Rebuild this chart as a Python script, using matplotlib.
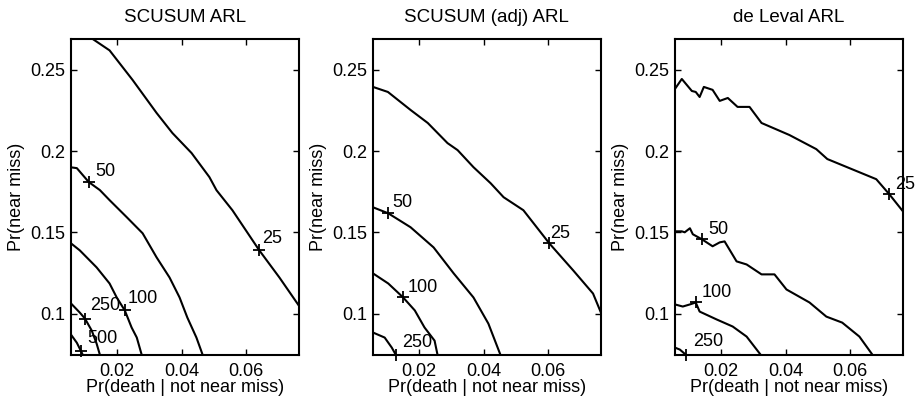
import matplotlib
matplotlib.use("Agg")
from matplotlib import pyplot as plt

plt.rcParams['font.family'] = ['Liberation Sans', 'DejaVu Sans']

titles = ["SCUSUM ARL", "SCUSUM (adj) ARL", "de Leval ARL"]
xlabel = "Pr(death | not near miss)"
ylabel = "Pr(near miss)"
xticks = [0.02, 0.04, 0.06]
xticklabels = ["0.02", "0.04", "0.06"]
yticks = [0.1, 0.15, 0.2, 0.25]
yticklabels = ["0.1", "0.15", "0.2", "0.25"]
xlim = (0.0059, 0.0761)
ylim = (0.0747, 0.269)

# SCUSUM ARL contours
scusum_levels = ["25", "50", "100", "250", "500"]
scusum_x = [
    [0.0126, 0.0178, 0.0249, 0.0323, 0.0372, 0.0431, 0.0486, 0.0508, 0.0557, 0.0640, 0.0702, 0.0762],
    [0.0059, 0.0077, 0.0114, 0.0148, 0.0178, 0.0231, 0.0280, 0.0323, 0.0363, 0.0394, 0.0418, 0.0446, 0.0465],
    [0.0059, 0.0086, 0.0138, 0.0178, 0.0200, 0.0225, 0.0246, 0.0262, 0.0277],
    [0.0059, 0.0086, 0.0102, 0.0123, 0.0138, 0.0148],
    [0.0059, 0.0077, 0.0089, 0.0095],
]
scusum_y = [
    [0.269, 0.262, 0.2438, 0.2235, 0.2111, 0.1988, 0.184, 0.1759, 0.1636, 0.1389, 0.1222, 0.1049],
    [0.190, 0.1895, 0.1809, 0.176, 0.1698, 0.1593, 0.1494, 0.1346, 0.1222, 0.1099, 0.0975, 0.0852, 0.0747],
    [0.1432, 0.1389, 0.1284, 0.1185, 0.1099, 0.1019, 0.0914, 0.0852, 0.0747],
    [0.1062, 0.1006, 0.0969, 0.0895, 0.0815, 0.0747],
    [0.087, 0.082, 0.0772, 0.0747],
]
scusum_mark_x = [0.0640, 0.0114, 0.0225, 0.0102, 0.0089]
scusum_mark_y = [0.1389, 0.1809, 0.1019, 0.0969, 0.0772]
scusum_text_x = [0.0680, 0.0166, 0.0280, 0.0163, 0.0157]
scusum_text_y = [0.1463, 0.1877, 0.1093, 0.1049, 0.0846]

# SCUSUM (adj) ARL contours
adj_levels = ["25", "50", "100", "250"]
adj_x = [
    [0.0059, 0.0105, 0.0175, 0.0228, 0.0289, 0.0320, 0.0369, 0.0422, 0.0462, 0.0523, 0.0603, 0.0677, 0.0738, 0.0766],
    [0.0059, 0.0106, 0.0175, 0.0246, 0.0308, 0.0369, 0.0415, 0.0452],
    [0.0059, 0.0106, 0.0152, 0.0188, 0.0218, 0.0249, 0.0258],
    [0.0059, 0.0095, 0.0117, 0.0129],
]
adj_y = [
    [0.2395, 0.2364, 0.2253, 0.2173, 0.2049, 0.2006, 0.1901, 0.1802, 0.1716, 0.1636, 0.1432, 0.1265, 0.1123, 0.0988],
    [0.1654, 0.1617, 0.1531, 0.1407, 0.1247, 0.1099, 0.0938, 0.0747],
    [0.1247, 0.1185, 0.1099, 0.1019, 0.0914, 0.0833, 0.0747],
    [0.0883, 0.0852, 0.079, 0.0747],
]
adj_mark_x = [0.0603, 0.0106, 0.0152, 0.0129]
adj_mark_y = [0.1432, 0.1617, 0.1099, 0.0747]
adj_text_x = [0.0636, 0.0149, 0.0213, 0.0195]
adj_text_y = [0.1494, 0.1685, 0.1160, 0.0821]

# de Leval ARL contours
dl_levels = ["25", "50", "100", "250"]
dl_x = [
    [0.0059, 0.0080, 0.0111, 0.0123, 0.0135, 0.0148, 0.0175, 0.0197, 0.0222, 0.0252, 0.0289, 0.0326, 0.0412,
     0.0495, 0.0529, 0.0680, 0.0720, 0.0762],
    [0.0059, 0.0080, 0.0089, 0.0105, 0.0114, 0.0142, 0.0175, 0.0197, 0.0212, 0.0249, 0.0280, 0.0326, 0.0366,
     0.0403, 0.0474, 0.0526, 0.0575, 0.0628, 0.0668],
    [0.0059, 0.0083, 0.0105, 0.0123, 0.0135, 0.0188, 0.0237, 0.0280, 0.0323],
    [0.0059, 0.0074, 0.0092],
]
dl_y = [
    [0.2383, 0.2444, 0.237, 0.2364, 0.2333, 0.2395, 0.2377, 0.2309, 0.2327, 0.2272, 0.2272, 0.2173, 0.2099,
     0.2012, 0.1951, 0.1827, 0.1735, 0.163],
    [0.1506, 0.1506, 0.150, 0.1525, 0.1488, 0.1457, 0.1414, 0.1438, 0.1444, 0.1321, 0.1302, 0.1241, 0.1241,
     0.1148, 0.1068, 0.0981, 0.0944, 0.0858, 0.0747],
    [0.1056, 0.1043, 0.1056, 0.1068, 0.1012, 0.0963, 0.092, 0.0858, 0.0747],
    [0.079, 0.0778, 0.0747],
]
dl_mark_x = [0.0720, 0.0142, 0.0123, 0.0092]
dl_mark_y = [0.1735, 0.1457, 0.1068, 0.0747]
dl_text_x = [0.0769, 0.0192, 0.0189, 0.0161]
dl_text_y = [0.1796, 0.1519, 0.1130, 0.0827]

panels = [
    (scusum_levels, scusum_x, scusum_y, scusum_mark_x, scusum_mark_y, scusum_text_x, scusum_text_y),
    (adj_levels, adj_x, adj_y, adj_mark_x, adj_mark_y, adj_text_x, adj_text_y),
    (dl_levels, dl_x, dl_y, dl_mark_x, dl_mark_y, dl_text_x, dl_text_y),
]

fig = plt.figure(figsize=(9.17, 3.98), dpi=100)
lefts = [71 / 917, 373 / 917, 675 / 917]
fs = 13

for left, title, panel in zip(lefts, titles, panels):
    levels, xs, ys, mx, my, tx, ty = panel
    ax = fig.add_axes([left, 0.109, 227.5 / 917, 0.793])
    for x, y in zip(xs, ys):
        ax.plot(x, y, color='black', lw=1.5)
    ax.plot(mx, my, '+', color='black', ms=9, mew=1.3, clip_on=False)
    for lab, x, y in zip(levels, tx, ty):
        ax.text(x, y, lab, ha='center', va='center', fontsize=fs)
    ax.set_xlim(xlim)
    ax.set_ylim(ylim)
    ax.set_xticks(xticks)
    ax.set_xticklabels(xticklabels)
    ax.set_yticks(yticks)
    ax.set_yticklabels(yticklabels)
    ax.tick_params(direction='in', top=True, right=True, length=4, width=1,
                   labelsize=fs)
    ax.tick_params(axis='x', pad=6)
    ax.tick_params(axis='y', pad=4)
    for s in ax.spines.values():
        s.set_linewidth(1.5)
    ax.set_title(title, fontsize=13.5, pad=12)
    ax.set_xlabel(xlabel, fontsize=fs, labelpad=-1)
    ax.set_ylabel(ylabel, fontsize=fs, labelpad=4)

fig.savefig('out.png', dpi=100)
